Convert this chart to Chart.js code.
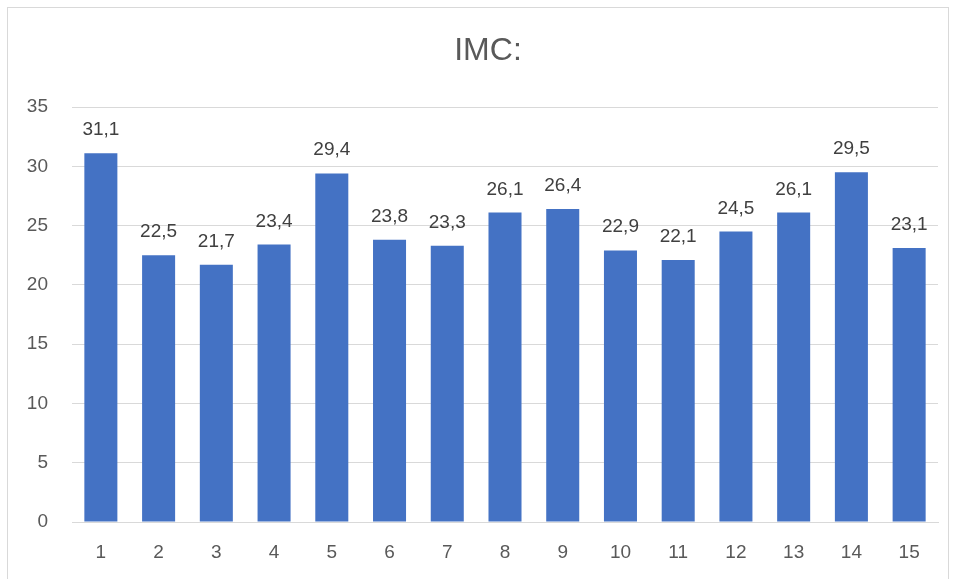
<!DOCTYPE html>
<html>
<head>
<meta charset="utf-8">
<script src="https://cdn.jsdelivr.net/npm/chart.js@4"></script>
<style>
  html, body { margin: 0; padding: 0; background: #fff; }
  #wrap { position: relative; width: 956px; height: 579px; overflow: hidden; }
  #frame {
    position: absolute; left: 7px; top: 7px; width: 942px; height: 600px;
    border: 1px solid #d9d9d9; box-sizing: border-box;
  }
  #chart { position: absolute; left: 0; top: 0; }
</style>
</head>
<body>
<div id="wrap">
  <div id="frame"></div>
  <canvas id="chart" width="956" height="579"></canvas>
</div>
<script>
const TITLE = 'IMC:';
const labels = ['1', '2', '3', '4', '5', '6', '7', '8', '9', '10', '11', '12', '13', '14', '15'];
const imc = [31.1, 22.5, 21.7, 23.4, 29.4, 23.8, 23.3, 26.1, 26.4, 22.9, 22.1, 24.5, 26.1, 29.5, 23.1];
const yTicks = [0, 5, 10, 15, 20, 25, 30, 35];

const BAR_COLOR = '#4472c4';
const GRID_COLOR = '#d9d9d9';
const FONT = '"Liberation Sans", Arial, sans-serif';

const fmtComma = v => v.toFixed(1).replace('.', ',');

// chart title, centred a little right of the canvas middle
const titleText = {
  id: 'titleText',
  afterDraw(chart) {
    const { ctx } = chart;
    ctx.save();
    ctx.font = '32px ' + FONT;
    ctx.fillStyle = '#595959';
    ctx.textAlign = 'center';
    ctx.textBaseline = 'middle';
    ctx.fillText(TITLE, 488, 51);
    ctx.restore();
  }
};

// value labels above each bar
const valueLabels = {
  id: 'valueLabels',
  afterDatasetsDraw(chart) {
    const { ctx } = chart;
    const meta = chart.getDatasetMeta(0);
    ctx.save();
    ctx.font = '19px ' + FONT;
    ctx.fillStyle = '#404040';
    ctx.textAlign = 'center';
    ctx.textBaseline = 'alphabetic';
    meta.data.forEach((bar, i) => {
      ctx.fillText(fmtComma(imc[i]), bar.x, bar.y - 18);
    });
    ctx.restore();
  }
};

new Chart(document.getElementById('chart'), {
  type: 'bar',
  data: {
    labels,
    datasets: [{
      data: imc,
      backgroundColor: BAR_COLOR,
      borderWidth: 0,
      categoryPercentage: 1,
      barPercentage: 0.572,
    }],
  },
  options: {
    responsive: false,
    animation: false,
    layout: { padding: { left: 0, right: 18, top: 107, bottom: 0 } },
    plugins: {
      legend: { display: false },
      tooltip: { enabled: false },
      title: { display: false },
    },
    scales: {
      x: {
        grid: { display: false, drawTicks: false },
        border: { display: true, color: GRID_COLOR, width: 1 },
        ticks: { color: '#595959', font: { family: FONT, size: 19 }, padding: 19 },
        afterFit(scale) { scale.height = 57; },
      },
      y: {
        min: 0,
        max: 35,
        afterBuildTicks(scale) { scale.ticks = yTicks.map(v => ({ value: v })); },
        grid: { color: GRID_COLOR, lineWidth: 1, drawTicks: false },
        border: { display: false },
        ticks: { color: '#595959', font: { family: FONT, size: 19 }, padding: 24 },
        afterFit(scale) { scale.width = 72; },
      },
    },
  },
  plugins: [valueLabels, titleText],
});
</script>
</body>
</html>
